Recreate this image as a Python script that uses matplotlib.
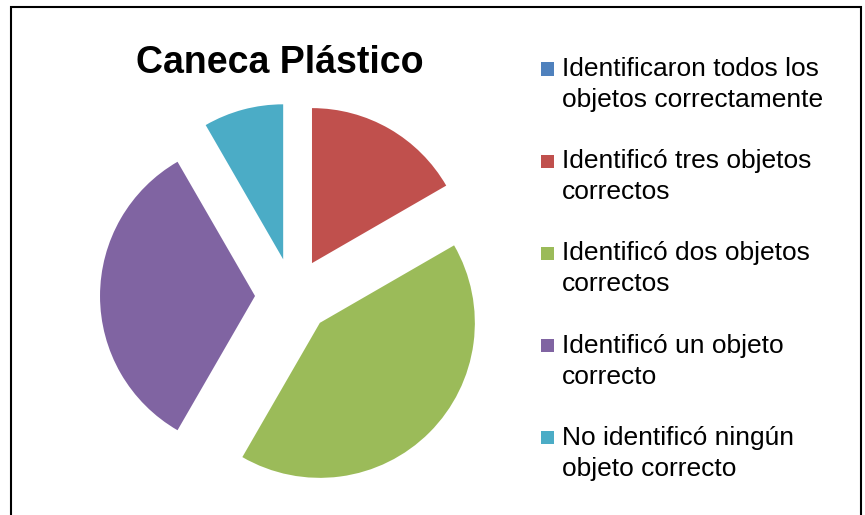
import matplotlib.pyplot as plt
from matplotlib.patches import Rectangle

plt.rcParams['font.family'] = ['Liberation Sans', 'DejaVu Sans']

# data
labels = [
    "Identificaron todos los\nobjetos correctamente",
    "Identificó tres objetos\ncorrectos",
    "Identificó dos objetos\ncorrectos",
    "Identificó un objeto\ncorrecto",
    "No identificó ningún\nobjeto correcto",
]
counts = [0, 2, 5, 4, 1]
colors = ['#4F81BD', '#C0504D', '#9BBB59', '#8064A2', '#4BACC6']
explode = [0.245] * len(counts)

W, H = 865, 515
fig = plt.figure(figsize=(W / 100, H / 100), dpi=100)

# pie axes: centre at (293, 296) px, radius 155 px
lim = 1.35
side = 2 * lim * 155
ax = fig.add_axes([(293 - side / 2) / W, (H - 296 - side / 2) / H, side / W, side / H])
ax.pie(counts, colors=colors, explode=explode, startangle=90, counterclock=False,
       wedgeprops=dict(linewidth=0))
ax.set_xlim(-lim, lim)
ax.set_ylim(-lim, lim)
ax.set_aspect('equal')
ax.axis('off')

fig.text(280 / W, 1 - 63 / H, "Caneca Plástico", fontsize=27, fontweight='bold',
         ha='center', va='center')

# legend drawn by hand
for i, (lab, col) in enumerate(zip(labels, colors)):
    y0 = 69 + 92.2 * i
    fig.patches.append(Rectangle((541 / W, 1 - (y0 + 6.5) / H), 13 / W, 13 / H,
                                 transform=fig.transFigure, facecolor=col,
                                 edgecolor='none'))
    for j, line in enumerate(lab.split("\n")):
        fig.text(562 / W, 1 - (y0 + 31 * j) / H, line, fontsize=19,
                 ha='left', va='center')

# outer frame
fig.patches.append(Rectangle((11 / W, -0.05), 850 / W, 1.05 - 7 / H,
                             transform=fig.transFigure, fill=False,
                             edgecolor='black', linewidth=1.5))

fig.savefig('out.png', dpi=100)
